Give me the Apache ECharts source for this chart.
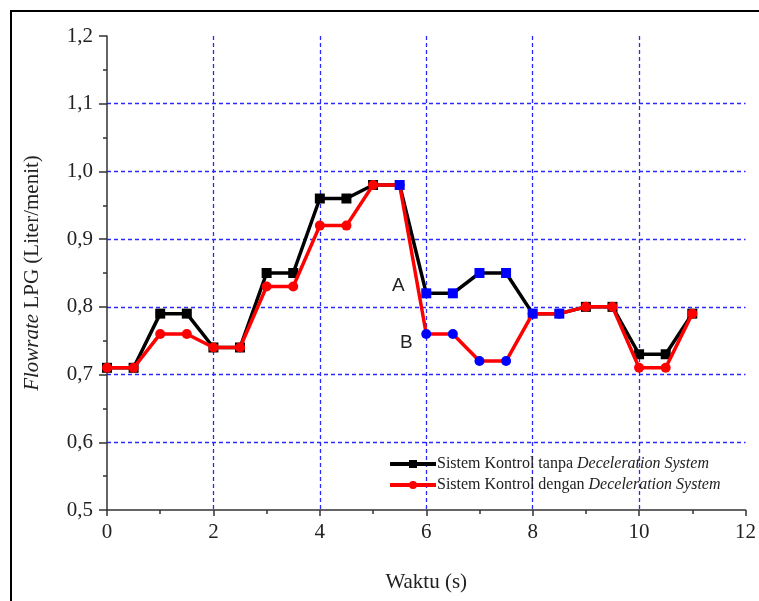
<!DOCTYPE html>
<html>
<head>
<meta charset="utf-8">
<script src="https://cdn.jsdelivr.net/npm/echarts@6/dist/echarts.min.js"></script>
<style>
  html, body { margin: 0; padding: 0; background: #fff; }
  #chart { width: 759px; height: 601px; }
</style>
</head>
<body>
<div id="chart"></div>
<script>
// time (s)
const waktu = [0, 0.5, 1, 1.5, 2, 2.5, 3, 3.5, 4, 4.5, 5, 5.5, 6, 6.5, 7, 7.5, 8, 8.5, 9, 9.5, 10, 10.5, 11];
// flowrate, without deceleration system
const tanpa = [0.71, 0.71, 0.79, 0.79, 0.74, 0.74, 0.85, 0.85, 0.96, 0.96, 0.98, 0.98, 0.82, 0.82, 0.85, 0.85, 0.79, 0.79, 0.80, 0.80, 0.73, 0.73, 0.79];
// flowrate, with deceleration system
const dengan = [0.71, 0.71, 0.76, 0.76, 0.74, 0.74, 0.83, 0.83, 0.92, 0.92, 0.98, 0.98, 0.76, 0.76, 0.72, 0.72, 0.79, 0.79, 0.80, 0.80, 0.71, 0.71, 0.79];
// points highlighted in blue (x values)
const blueTanpa = [5.5, 6, 6.5, 7, 7.5, 8, 8.5];
const blueDengan = [5.5, 6, 6.5, 7, 7.5, 8, 8.5];
const seriesNames = ['Sistem Kontrol tanpa Deceleration System', 'Sistem Kontrol dengan Deceleration System'];

const serif = 'Liberation Serif';

const toData = (vals, blues) => waktu.map((x, i) => {
  const item = { value: [x, vals[i]] };
  if (blues.indexOf(x) >= 0) item.itemStyle = { color: '#0000ff' };
  return item;
});

const chart = echarts.init(document.getElementById('chart'));
chart.setOption({
  animation: false,
  backgroundColor: '#fff',
  grid: { left: 107, right: 9, top: 36, bottom: 91, containLabel: false },
  graphic: [
    {
      type: 'rect',
      shape: { x: 11, y: 11, width: 900, height: 800 },
      style: { fill: 'none', stroke: '#000', lineWidth: 2 },
      silent: true,
      z: -1
    }
  ],
  legend: {
    orient: 'vertical',
    left: 383,
    top: 451,
    itemWidth: 46,
    itemHeight: 10,
    itemGap: 5,
    data: seriesNames,
    lineStyle: { width: 4 },
    formatter: name => {
      const parts = name.split('Deceleration');
      return parts[0] + '{i|Deceleration' + parts[1] + '}';
    },
    textStyle: {
      fontFamily: serif,
      fontSize: 16,
      color: '#222',
      padding: [0, 0, 0, -4],
      rich: {
        i: { fontFamily: serif, fontStyle: 'italic', fontSize: 16, color: '#222' }
      }
    }
  },
  xAxis: {
    type: 'value',
    min: 0,
    max: 12,
    interval: 2,
    name: 'Waktu (s)',
    nameLocation: 'middle',
    nameGap: 62,
    nameTextStyle: { fontFamily: serif, fontSize: 21, color: '#222' },
    axisLine: { show: true, lineStyle: { color: '#333', width: 1.5 } },
    axisTick: { show: true, inside: false, length: 6, lineStyle: { color: '#333', width: 1.5 } },
    minorTick: { show: true, splitNumber: 2, length: 4, lineStyle: { color: '#333', width: 1.5 } },
    axisLabel: { fontFamily: serif, fontSize: 21, color: '#222', margin: 12 },
    splitLine: {
      show: true,
      showMinLine: false,
      showMaxLine: false,
      lineStyle: { color: '#2a2aff', width: 1.3, type: [4, 3] }
    }
  },
  yAxis: {
    type: 'value',
    min: 0.5,
    max: 1.2,
    interval: 0.1,
    name: '{i|Flowrate} LPG (Liter/menit)',
    nameLocation: 'middle',
    nameGap: 64,
    nameTextStyle: {
      fontFamily: serif,
      fontSize: 21,
      color: '#222',
      rich: { i: { fontFamily: serif, fontStyle: 'italic', fontSize: 21, color: '#222' } }
    },
    axisLine: { show: true, lineStyle: { color: '#333', width: 1.5 } },
    axisTick: { show: true, inside: false, length: 8, lineStyle: { color: '#333', width: 1.5 } },
    minorTick: { show: true, splitNumber: 2, length: 4, lineStyle: { color: '#333', width: 1.5 } },
    axisLabel: {
      fontFamily: serif,
      fontSize: 21,
      color: '#222',
      margin: 14,
      formatter: v => v.toFixed(1).replace('.', ',')
    },
    splitLine: {
      show: true,
      showMinLine: false,
      showMaxLine: false,
      lineStyle: { color: '#2a2aff', width: 1.3, type: [4, 3] }
    }
  },
  series: [
    {
      name: seriesNames[0],
      type: 'line',
      data: toData(tanpa, blueTanpa),
      symbol: 'rect',
      symbolSize: 10,
      showAllSymbol: true,
      itemStyle: { color: '#000' },
      lineStyle: { color: '#000', width: 3.5 },
      z: 2,
      markPoint: {
        symbol: 'circle',
        symbolSize: 0,
        label: { show: true, formatter: 'A', fontFamily: 'Liberation Sans', fontSize: 19, color: '#222', offset: [-28, -8] },
        data: [{ coord: [6, 0.82] }]
      }
    },
    {
      name: seriesNames[1],
      type: 'line',
      data: toData(dengan, blueDengan),
      symbol: 'circle',
      symbolSize: 10,
      showAllSymbol: true,
      itemStyle: { color: '#ff0000' },
      lineStyle: { color: '#ff0000', width: 3.5 },
      z: 3,
      markPoint: {
        symbol: 'circle',
        symbolSize: 0,
        label: { show: true, formatter: 'B', fontFamily: 'Liberation Sans', fontSize: 19, color: '#222', offset: [-20, 9] },
        data: [{ coord: [6, 0.76] }]
      }
    }
  ]
});
</script>
</body>
</html>
